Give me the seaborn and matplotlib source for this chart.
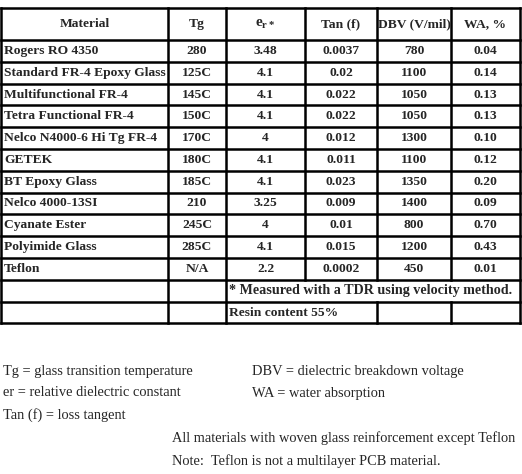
import matplotlib
matplotlib.use("Agg")
import matplotlib.pyplot as plt
import seaborn as sns

sns.set_style("white")
plt.rcParams['font.family'] = ['Liberation Serif', 'DejaVu Serif']
plt.rcParams['mathtext.fontset'] = 'custom'
plt.rcParams['mathtext.rm'] = 'Liberation Serif:bold'

headers = ["Material", "Tg", r"e$_{\mathregular{r*}}$", "Tan (f)", "DBV (V/mil)", "WA, %"]
materials = ["Rogers RO 4350", "Standard FR-4 Epoxy Glass", "Multifunctional FR-4",
             "Tetra Functional FR-4", "Nelco N4000-6 Hi Tg FR-4", "GETEK", "BT Epoxy Glass",
             "Nelco 4000-13SI", "Cyanate Ester", "Polyimide Glass", "Teflon"]
tg = ["280", "125C", "145C", "150C", "170C", "180C", "185C", "210", "245C", "285C", "N/A"]
er = ["3.48", "4.1", "4.1", "4.1", "4", "4.1", "4.1", "3.25", "4", "4.1", "2.2"]
tanf = ["0.0037", "0.02", "0.022", "0.022", "0.012", "0.011", "0.023", "0.009", "0.01", "0.015", "0.0002"]
dbv = ["780", "1100", "1050", "1050", "1300", "1100", "1350", "1400", "800", "1200", "450"]
wa = ["0.04", "0.14", "0.13", "0.13", "0.10", "0.12", "0.20", "0.09", "0.70", "0.43", "0.01"]
notes = ["* Measured with a TDR using velocity method.", "Resin content 55%"]
legend_left = ["Tg = glass transition temperature", "er = relative dielectric constant", "Tan (f) = loss tangent"]
legend_right = ["DBV = dielectric breakdown voltage", "WA = water absorption"]
footer = ["All materials with woven glass reinforcement except Teflon",
          "Note:  Teflon is not a multilayer PCB material."]

fig = plt.figure(figsize=(5.22, 4.74), dpi=100)
ax = fig.add_axes([0, 0, 1, 1])
ax.set_xlim(0, 522); ax.set_ylim(474, 0); ax.axis('off')

cols = [1, 168, 226, 305, 377, 451, 520]
top, hb = 8, 40
rh = 21.8
nrows = len(materials) + 2
ys = [top, hb] + [hb + rh * (i + 1) for i in range(nrows)]
bottom = ys[-1]
fs = 9.7
fs2 = 10.4
lw = 1.8
kw = dict(color='black', lw=lw, solid_capstyle='projecting')

for y in ys:
    ax.plot([cols[0], cols[-1]], [y, y], **kw)
for i, x in enumerate(cols):
    if i in (4, 5):
        ax.plot([x, x], [top, ys[-3]], **kw)
        ax.plot([x, x], [ys[-2], bottom], **kw)
    elif i == 3:
        ax.plot([x, x], [top, ys[-3]], **kw)
    else:
        ax.plot([x, x], [top, bottom], **kw)

def ctext(x, y, s, ha='center', size=fs):
    ax.text(x, y, s, ha=ha, va='center', fontsize=size, fontweight='bold')

for j, h in enumerate(headers):
    ctext((cols[j] + cols[j + 1]) / 2, (top + hb) / 2, h, size=(11 if j == 2 else fs))
for i in range(len(materials)):
    yc = (ys[i + 1] + ys[i + 2]) / 2
    ctext(cols[0] + 3, yc, materials[i], ha='left')
    for j, col in enumerate([tg, er, tanf, dbv, wa], start=1):
        ctext((cols[j] + cols[j + 1]) / 2, yc, col[i])
for k, n in enumerate(notes):
    yc = (ys[len(materials) + 1 + k] + ys[len(materials) + 2 + k]) / 2
    ctext(cols[2] + 3, yc, n, ha='left', size=(10.2 if k == 0 else fs))

for k, s in enumerate(legend_left):
    ax.text(3, 371 + 22 * k, s, ha='left', va='center', fontsize=fs2)
for k, s in enumerate(legend_right):
    ax.text(252, 371 + 22 * k, s, ha='left', va='center', fontsize=fs2)
for k, s in enumerate(footer):
    ax.text(172, 438 + 23 * k, s, ha='left', va='center', fontsize=fs2)

fig.savefig("out.png", dpi=100)
